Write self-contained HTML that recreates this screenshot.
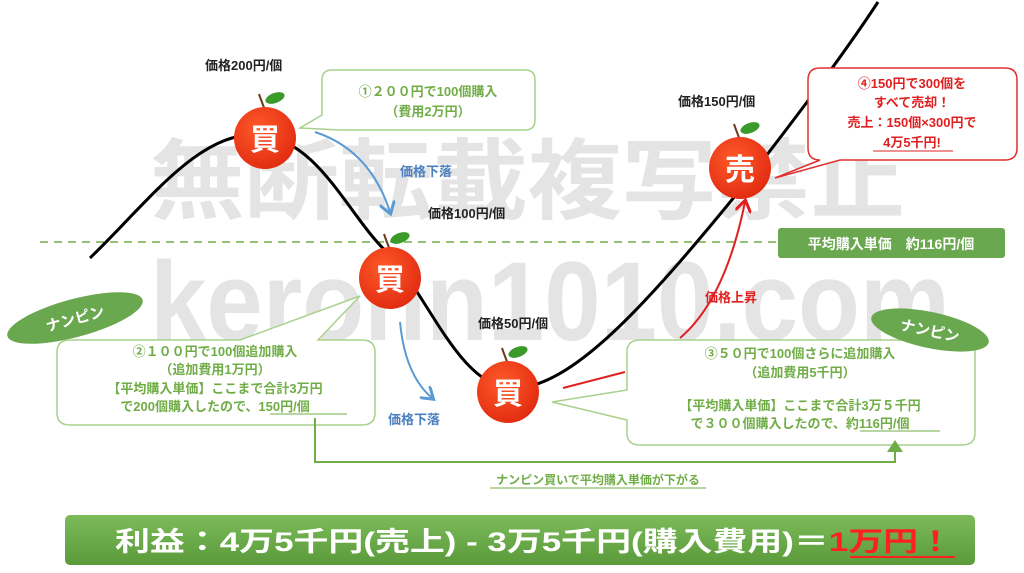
<!DOCTYPE html>
<html><head><meta charset="utf-8"><style>
html,body{margin:0;padding:0;background:#fff}
svg{display:block}
text{font-family:"Liberation Sans","Noto Sans CJK JP",sans-serif}
</style></head><body>
<svg width="1024" height="573" viewBox="0 0 1024 573" xmlns="http://www.w3.org/2000/svg">
<defs>
<radialGradient id="ap" cx="40%" cy="35%" r="70%"><stop offset="0" stop-color="#ff5a2a"/><stop offset="1" stop-color="#e02a10"/></radialGradient>
<linearGradient id="bar" x1="0" y1="0" x2="0" y2="1"><stop offset="0" stop-color="#7dbb5a"/><stop offset="1" stop-color="#5a9a3a"/></linearGradient>
<marker id="ab" markerWidth="8" markerHeight="8" refX="5" refY="4" orient="auto"><path d="M0,0 L6,4 L0,8" fill="none" stroke="#5b9bd5" stroke-width="1.5"/></marker>
<marker id="ar" markerWidth="8" markerHeight="8" refX="5" refY="4" orient="auto"><path d="M0,0 L6,4 L0,8" fill="none" stroke="#e02020" stroke-width="1.5"/></marker>
<marker id="ag" markerWidth="8" markerHeight="8" refX="5" refY="4" orient="auto"><path d="M0,0 L6,4 L0,8 z" fill="#70ad47"/></marker>
</defs>
<!-- watermark -->
<text x="150" y="212" font-size="88" font-weight="bold" fill="#e4e4e4" textLength="755" lengthAdjust="spacingAndGlyphs">無断転載複写禁止</text>
<text x="150" y="340" font-size="112" font-weight="bold" fill="#e4e4e4" textLength="800" lengthAdjust="spacingAndGlyphs">keronn1010.com</text>
<!-- dashed line -->
<line x1="40" y1="242" x2="778" y2="242" stroke="#70ad47" stroke-width="1.5" stroke-dasharray="8,6"/>
<rect x="778" y="228" width="227" height="30" rx="3" fill="#6aa84f"/>
<text x="891" y="249" font-size="14" font-weight="bold" fill="#fff" text-anchor="middle">平均購入単価　約116円/個</text>
<!-- curve -->
<path d="M90,258 C150,200 200,130 260,135 C320,140 350,220 390,255 C430,300 460,385 510,388 C570,392 650,300 740,190 C790,125 840,60 878,2" fill="none" stroke="#000" stroke-width="3"/>
<!-- arrows -->
<path d="M315,132 Q370,150 390,212" fill="none" stroke="#5b9bd5" stroke-width="2" marker-end="url(#ab)"/>
<text x="400" y="176" font-size="13" font-weight="bold" fill="#4a7fc0">価格下落</text>
<path d="M400,322 Q405,375 432,398" fill="none" stroke="#5b9bd5" stroke-width="2" marker-end="url(#ab)"/>
<text x="388" y="424" font-size="13" font-weight="bold" fill="#4a7fc0">価格下落</text>
<path d="M563,388 L625,372" stroke="#e02020" stroke-width="2"/>
<path d="M680,338 Q725,300 745,202" fill="none" stroke="#e02020" stroke-width="2" marker-end="url(#ar)"/>
<text x="705" y="302" font-size="13" font-weight="bold" fill="#e02020">価格上昇</text>
<!-- price labels -->
<g font-size="13" font-weight="bold" fill="#222">
<text x="205" y="70">価格200円/個</text>
<text x="428" y="218">価格100円/個</text>
<text x="478" y="328">価格50円/個</text>
<text x="678" y="106">価格150円/個</text>
</g>
<!-- apples -->
<g transform="translate(265,138)">
<path d="M0,-28 Q-4,-38 -6,-44" stroke="#6b3a1a" stroke-width="2" fill="none"/>
<ellipse cx="10" cy="-40" rx="10" ry="5" transform="rotate(-20 10 -40)" fill="#3a9a2a"/>
<circle r="31" fill="url(#ap)"/>
<text y="12" font-size="30" font-weight="bold" fill="#fff" text-anchor="middle">買</text>
</g>
<g transform="translate(390,278)">
<path d="M0,-28 Q-4,-38 -6,-44" stroke="#6b3a1a" stroke-width="2" fill="none"/>
<ellipse cx="10" cy="-40" rx="10" ry="5" transform="rotate(-20 10 -40)" fill="#3a9a2a"/>
<circle r="31" fill="url(#ap)"/>
<text y="12" font-size="30" font-weight="bold" fill="#fff" text-anchor="middle">買</text>
</g>
<g transform="translate(508,392)">
<path d="M0,-28 Q-4,-38 -6,-44" stroke="#6b3a1a" stroke-width="2" fill="none"/>
<ellipse cx="10" cy="-40" rx="10" ry="5" transform="rotate(-20 10 -40)" fill="#3a9a2a"/>
<circle r="31" fill="url(#ap)"/>
<text y="12" font-size="30" font-weight="bold" fill="#fff" text-anchor="middle">買</text>
</g>
<g transform="translate(740,168)">
<path d="M0,-28 Q-4,-38 -6,-44" stroke="#6b3a1a" stroke-width="2" fill="none"/>
<ellipse cx="10" cy="-40" rx="10" ry="5" transform="rotate(-20 10 -40)" fill="#3a9a2a"/>
<circle r="31" fill="url(#ap)"/>
<text y="12" font-size="30" font-weight="bold" fill="#fff" text-anchor="middle">売</text>
</g>
<!-- callout 1 -->
<path d="M330,70 H525 Q535,70 535,80 V120 Q535,130 525,130 H340 L300,128 L322,115 V80 Q322,70 332,70 Z" fill="#fff" stroke="#a9d18e" stroke-width="1.5"/>
<g font-size="13" font-weight="bold" fill="#70ad47" text-anchor="middle">
<text x="428" y="96">①２００円で100個購入</text>
<text x="428" y="116">（費用2万円）</text>
</g>
<!-- callout 2 -->
<path d="M70,340 H240 L360,296 L318,340 H362 Q375,340 375,352 V413 Q375,425 362,425 H70 Q57,425 57,413 V352 Q57,340 70,340 Z" fill="#fff" stroke="#a9d18e" stroke-width="1.5"/>
<g font-size="13" font-weight="bold" fill="#70ad47" text-anchor="middle">
<text x="215" y="356">②１００円で100個追加購入</text>
<text x="215" y="374">（追加費用1万円）</text>
<text x="215" y="393">【平均購入単価】ここまで合計3万円</text>
<text x="215" y="411">で200個購入したので、150円/個</text>
</g>
<line x1="270" y1="414" x2="347" y2="414" stroke="#70ad47" stroke-width="1"/>
<ellipse cx="75" cy="318" rx="70" ry="19" transform="rotate(-15 75 318)" fill="#6aa84f"/>
<text x="75" y="324" font-size="15" font-weight="bold" fill="#fff" text-anchor="middle" transform="rotate(-15 75 318)">ナンピン</text>
<!-- callout 3 -->
<path d="M640,340 H962 Q975,340 975,352 V433 Q975,445 962,445 H640 Q627,445 627,433 V420 L552,402 L627,390 V352 Q627,340 640,340 Z" fill="#fff" stroke="#a9d18e" stroke-width="1.5"/>
<g font-size="13" font-weight="bold" fill="#70ad47" text-anchor="middle">
<text x="800" y="358">③５０円で100個さらに追加購入</text>
<text x="800" y="377">（追加費用5千円）</text>
<text x="800" y="410">【平均購入単価】ここまで合計3万５千円</text>
<text x="800" y="428">で３００個購入したので、約116円/個</text>
</g>
<line x1="860" y1="431" x2="940" y2="431" stroke="#70ad47" stroke-width="1"/>
<ellipse cx="930" cy="330" rx="60" ry="18" transform="rotate(12 930 330)" fill="#6aa84f"/>
<text x="930" y="336" font-size="15" font-weight="bold" fill="#fff" text-anchor="middle" transform="rotate(12 930 330)">ナンピン</text>
<!-- callout 4 -->
<path d="M820,68 H1005 Q1017,68 1017,80 V148 Q1017,160 1005,160 H840 L775,178 L820,160 Q808,160 808,148 V80 Q808,68 820,68 Z" fill="#fff" stroke="#e03030" stroke-width="1.5"/>
<g font-size="13" font-weight="bold" fill="#e02020" text-anchor="middle">
<text x="912" y="88">④150円で300個を</text>
<text x="912" y="107">すべて売却！</text>
<text x="912" y="127">売上：150個×300円で</text>
<text x="912" y="147">4万5千円!</text>
</g>
<line x1="873" y1="151" x2="953" y2="151" stroke="#e02020" stroke-width="1"/>
<!-- green connector -->
<path d="M315,418 V462 H895 V442" fill="none" stroke="#70ad47" stroke-width="2" marker-end="url(#ag)"/>
<text x="598" y="484" font-size="12" font-weight="bold" fill="#70ad47" text-anchor="middle">ナンピン買いで平均購入単価が下がる</text>
<line x1="490" y1="488" x2="706" y2="488" stroke="#70ad47" stroke-width="1"/>
<!-- bottom bar -->
<rect x="65" y="515" width="910" height="50" rx="5" fill="url(#bar)"/>
<text x="115" y="551" font-size="27" font-weight="bold" fill="#fff" textLength="838" lengthAdjust="spacingAndGlyphs">利益：4万5千円(売上) - 3万5千円(購入費用)＝<tspan fill="#ff2020">1万円！</tspan></text>
<line x1="850" y1="557" x2="955" y2="557" stroke="#ff2020" stroke-width="2"/>
</svg>
</body></html>
